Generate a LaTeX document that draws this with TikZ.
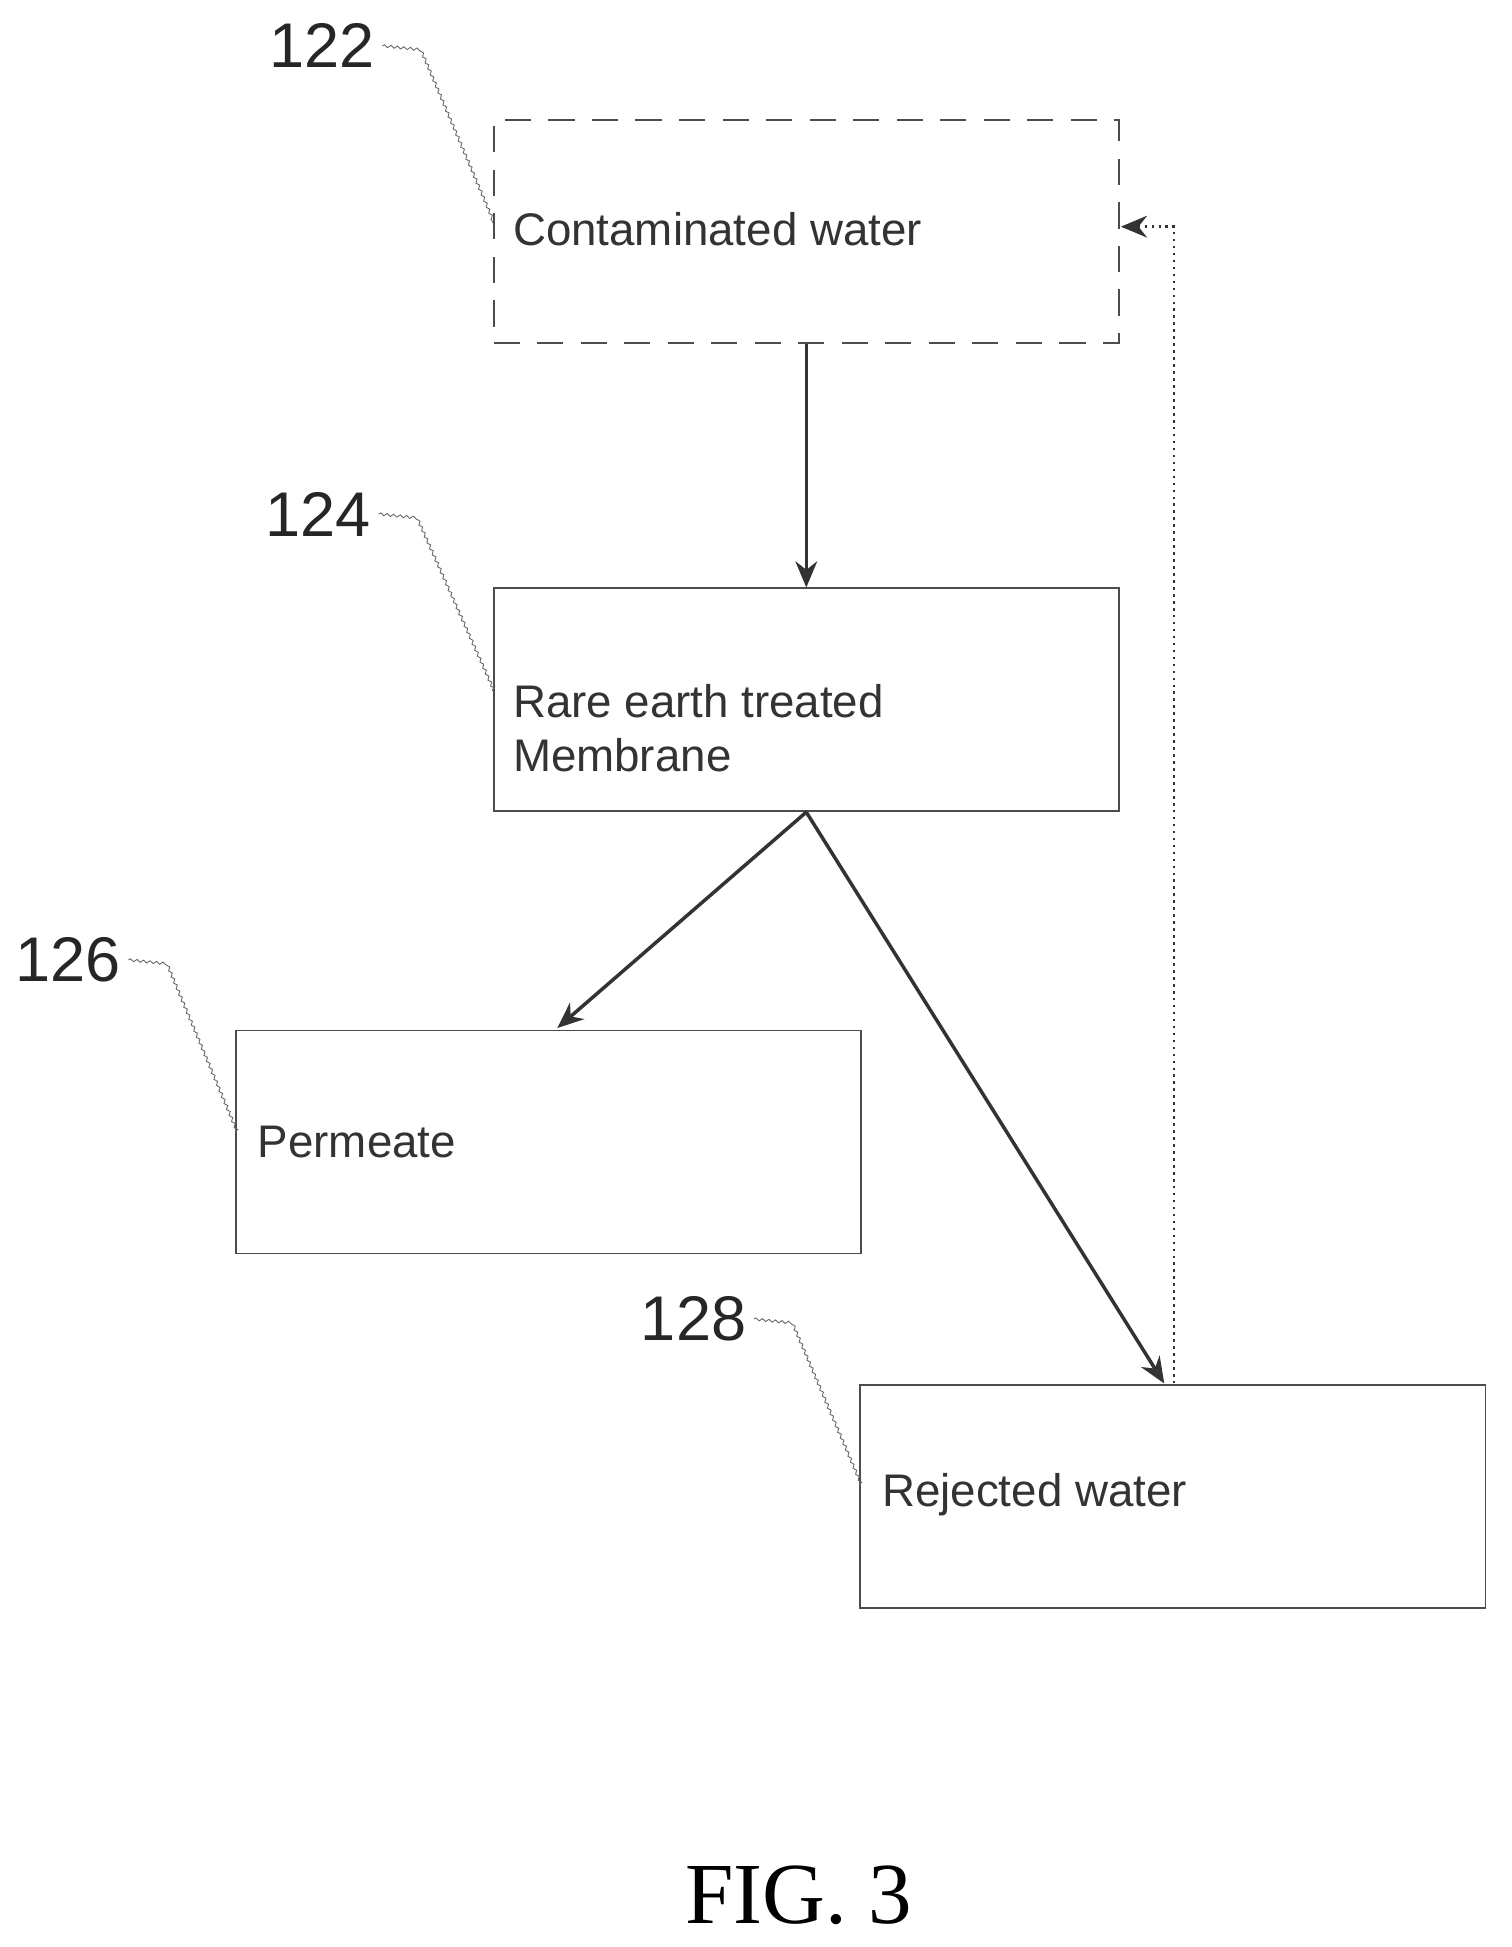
\documentclass[tikz,border=0pt]{standalone}
\usepackage{fontspec}
\setsansfont{Liberation Sans}
\newfontfamily\figfont{Liberation Serif}
\usetikzlibrary{positioning,arrows.meta,decorations.pathmorphing}
\begin{document}
\begin{tikzpicture}[x=0.02cm,y=-0.02cm,
	box/.style={draw=black!70,thick,rectangle,minimum width=10.1cm,minimum height=3.6cm,inner sep=0pt},
	txt/.style={anchor=west,font=\sffamily\fontsize{21}{25}\selectfont,align=left,text=black!80},
	ref/.style={font=\sffamily\fontsize{29}{31}\selectfont,text=black!85},
	leader/.style={draw=black!60,thin,decorate,decoration={snake,amplitude=0.6pt,segment length=3pt}},
	flow/.style={draw=black!80,line width=1.6pt,-{Stealth[length=12pt,width=10pt]}}]
	\useasboundingbox (0,0) rectangle (1220,1572);
	% boxes
	\node[box,dashed,dash pattern=on 12pt off 8pt] (water) at (651,187) {};
	\node[box] (membrane) at (651,565) {};
	\node[box] (permeate) at (443,922) {};
	\node[box] (rejected) at (947,1208) {};
	\node[txt] at (408,185) {Contaminated water};
	\node[txt] at (408,588) {Rare earth treated\\Membrane};
	\node[txt] at (202,922) {Permeate};
	\node[txt] at (706,1207) {Rejected water};
	% reference numerals
	\node[ref] (r122) at (260,37) {122};
	\node[ref] (r124) at (257,415) {124};
	\node[ref] (r126) at (55,775) {126};
	\node[ref] (r128) at (560,1065) {128};
	\draw[leader] (r122.east) -- ++(30,3) -- (398,180);
	\draw[leader] (r124.east) -- ++(30,3) -- (398,558);
	\draw[leader] (r126.east) -- ++(30,3) -- (191,915);
	\draw[leader] (r128.east) -- ++(30,3) -- (695,1200);
	% flows
	\draw[flow] (water.south) -- (membrane.north);
	\draw[flow] (membrane.south) -- (450,830);
	\draw[flow] (membrane.south) -- (940,1117);
	\coordinate (back) at (948,1117);
	\draw[flow,line width=1.2pt,dotted] (back) -- (948,183) -- (905,183);
	\node[font=\figfont\fontsize{40}{44}\selectfont] (fig) at (645,1530) {FIG. 3};
\end{tikzpicture}
\end{document}
